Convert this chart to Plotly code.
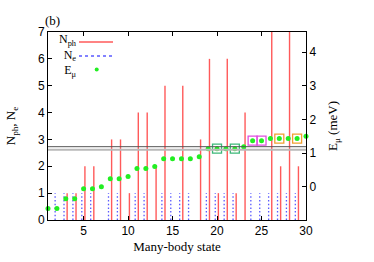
import plotly.graph_objects as go

# ---- data ----
states = list(range(1, 31))
n_ph = [0, 0, 1, 1, 2, 2, 0, 3, 3, 1, 4, 4, 2, 5, 0, 5, 0, 3, 6, 1, 6, 1, 4, 0, 0, 7, 2, 7, 2, 5]
n_e = [1, 1, 1, 1, 1, 1, 0, 1, 1, 0, 1, 1, 0, 1, 1, 1, 1, 0, 1, 1, 1, 1, 0, 1, 1, 1, 1, 1, 1, 0]
e_mu = [-0.65, -0.65, -0.36, -0.36, -0.06, -0.06, 0.00, 0.24, 0.24, 0.30,
        0.54, 0.54, 0.60, 0.83, 0.83, 0.83, 0.83, 0.89, 1.13, 1.13,
        1.13, 1.13, 1.19, 1.37, 1.37, 1.43, 1.43, 1.43, 1.43, 1.50]
boxed_green = [20, 22]
boxed_magenta = [24, 25]
boxed_orange = [27, 29]
ref_levels = [1.19, 1.10]
x_ticks = [5, 10, 15, 20, 25, 30]
y_ticks = [0, 1, 2, 3, 4, 5, 6, 7]
y2_ticks = [0, 1, 2, 3, 4]

# ---- styling ----
PH_SHIFT = 0.15
E_SHIFT = -0.2
SERIF = "Liberation Serif"
SANS = "Liberation Sans"


def impulses(xs, ys, dx):
    X, Y = [], []
    for x, y in zip(xs, ys):
        if y > 0:
            X += [x + dx, x + dx, None]
            Y += [0, y, None]
    return X, Y


fig = go.Figure()

xp, yp = impulses(states, n_ph, PH_SHIFT)
fig.add_trace(go.Scatter(x=xp, y=yp, mode="lines", name="N<sub>ph</sub>",
                         line=dict(color="#ff5a5a", width=1.4), showlegend=False))
xe, ye = impulses(states, n_e, E_SHIFT)
fig.add_trace(go.Scatter(x=xe, y=ye, mode="lines", name="N<sub>e</sub>",
                         line=dict(color="#5a5aff", width=1.3, dash="1.5px,2.2px"),
                         showlegend=False))


def sel(idx_list):
    return [s for s in idx_list], [e_mu[s - 1] for s in idx_list]


for group, col in [(boxed_green, "#3cb878"), (boxed_magenta, "#e050e0"), (boxed_orange, "#f0a030")]:
    bx, by = sel(group)
    fig.add_trace(go.Scatter(x=bx, y=by, yaxis="y2", mode="markers", showlegend=False,
                             marker=dict(symbol="square-open", size=9, color=col,
                                         line=dict(width=1.3, color=col)),
                             cliponaxis=False))

fig.add_trace(go.Scatter(x=states, y=e_mu, yaxis="y2", mode="markers", name="E<sub>μ</sub>",
                         marker=dict(color="#22ee22", size=5), cliponaxis=False,
                         showlegend=False))

# horizontal reference levels
fig.add_shape(type="line", xref="paper", x0=0, x1=1, yref="y2", y0=ref_levels[1], y1=ref_levels[1],
              line=dict(color="#b8b8b8", width=2))
fig.add_shape(type="line", xref="paper", x0=0, x1=1, yref="y2", y0=ref_levels[0], y1=ref_levels[0],
              line=dict(color="#555555", width=1))

# manual gnuplot-style key (text left, sample right)
L, R, T, B = 48, 306, 32, 220
W, H = R - L, B - T


def px(x):
    return (x - L) / W


def py(y):
    return (B - y) / H


fig.add_annotation(x=px(78), y=py(56), xref="paper", yref="paper",
                   text="N<sub>ph</sub><br>N<sub>e</sub><br>E<sub>μ</sub>",
                   showarrow=False, xanchor="right", yanchor="middle", align="right",
                   font=dict(family=SERIF, size=12, color="black"), borderpad=0)
fig.add_shape(type="line", xref="paper", yref="paper", x0=px(79), x1=px(113), y0=py(42), y1=py(42),
              line=dict(color="#ff5a5a", width=1.4))
fig.add_shape(type="line", xref="paper", yref="paper", x0=px(79), x1=px(113), y0=py(56), y1=py(56),
              line=dict(color="#5a5aff", width=1.3, dash="3px,3px"))
fig.add_shape(type="circle", xref="paper", yref="paper", x0=px(94.7), x1=px(98.7),
              y0=py(67.5), y1=py(71.5), fillcolor="#22ee22", line=dict(width=0))

fig.add_annotation(x=px(52), y=py(20), xref="paper", yref="paper", text="(b)",
                   showarrow=False, xanchor="center", yanchor="middle",
                   font=dict(family=SERIF, size=13, color="black"))

axis_common = dict(showgrid=False, zeroline=False, showline=True, linecolor="black",
                   linewidth=1, ticks="inside", ticklen=4, tickcolor="black", automargin=False,
                   tickfont=dict(family=SANS, size=12, color="black"))

fig.update_layout(
    width=374, height=262,
    margin=dict(l=L, r=374 - R, t=T, b=262 - B),
    paper_bgcolor="white", plot_bgcolor="white",
    showlegend=False,
    xaxis=dict(range=[1, 30], tickvals=x_ticks, mirror="ticks",
               title=dict(text="Many-body state", font=dict(family=SERIF, size=13, color="black"),
                          standoff=4),
               **axis_common),
    yaxis=dict(range=[0, 7], tickvals=y_ticks,
               title=dict(text="N<sub>ph</sub>, N<sub>e</sub>",
                          font=dict(family=SERIF, size=13, color="black"), standoff=19),
               **axis_common),
    yaxis2=dict(range=[-0.99, 4.6], tickvals=y2_ticks, overlaying="y", side="right",
                title=dict(text="E<sub>μ</sub> (meV)",
                           font=dict(family=SERIF, size=13, color="black"), standoff=12),
                **axis_common),
)

fig.write_html("out.html", config={"displayModeBar": False},
               post_script="document.body.style.margin='0px';document.body.style.overflow='hidden';")
